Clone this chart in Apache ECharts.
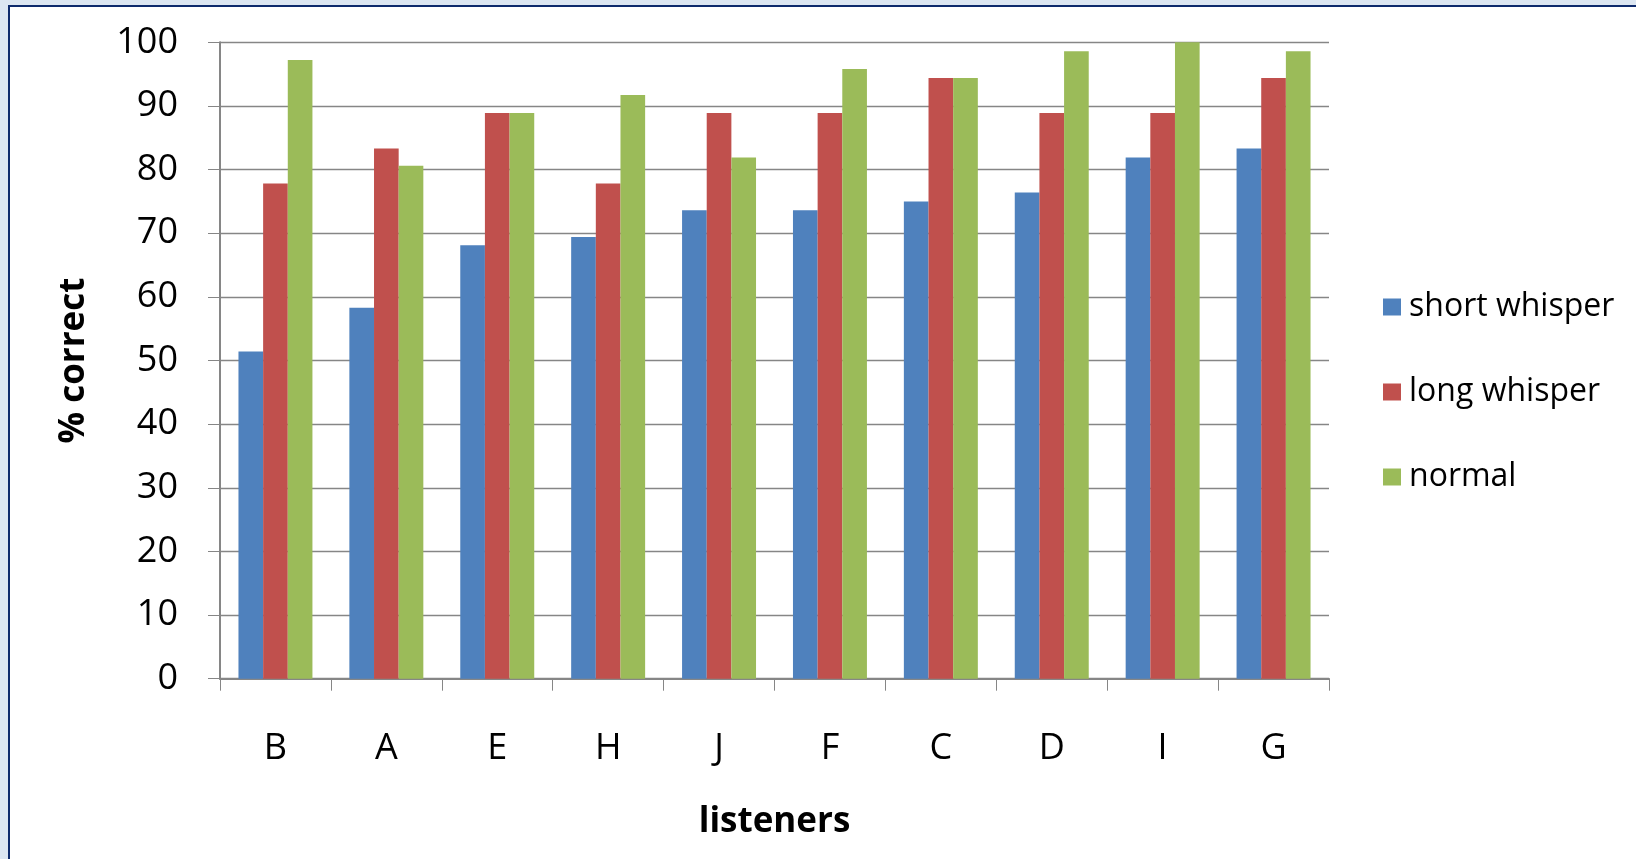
<!DOCTYPE html>
<html>
<head>
<meta charset="utf-8">
<script src="https://cdn.jsdelivr.net/npm/echarts@6/dist/echarts.min.js"></script>
<style>
  html, body { margin: 0; padding: 0; width: 1636px; height: 859px; overflow: hidden; background: #dce6f2; }
  #frame { position: absolute; left: 8px; top: 5px; width: 1700px; height: 1000px; background: #ffffff; border-left: 2.5px solid #0e2a6c; border-top: 2.5px solid #0e2a6c; }
  #chart { position: absolute; left: 0; top: 0; width: 1636px; height: 859px; }
</style>
</head>
<body>
<div id="frame"></div>
<div id="chart"></div>
<script>
const categories = ['B', 'A', 'E', 'H', 'J', 'F', 'C', 'D', 'I', 'G'];
const shortWhisper = [51.4, 58.3, 68.1, 69.4, 73.6, 73.6, 75.0, 76.4, 81.9, 83.3];
const longWhisper = [77.8, 83.3, 88.9, 77.8, 88.9, 88.9, 94.4, 88.9, 88.9, 94.4];
const normal = [97.2, 80.6, 88.9, 91.7, 81.9, 95.8, 94.4, 98.6, 100, 98.6];
const seriesNames = ['short whisper', 'long whisper', 'normal'];
const yTicks = { min: 0, max: 100, interval: 10 };

const FONT = 'Open Sans';
const GRAY = '#868686';

const chart = echarts.init(document.getElementById('chart'), null, { renderer: 'canvas' });
chart.setOption({
  backgroundColor: 'transparent',
  animation: false,
  color: ['#4f81bd', '#c0504d', '#9bbb59'],
  grid: { left: 220, top: 42.3, right: 307, bottom: 180.3, containLabel: false, outerBoundsMode: 'none' },
  legend: {
    orient: 'vertical',
    left: 1378,
    top: 286,
    itemWidth: 18,
    itemHeight: 17,
    itemGap: 53,
    icon: 'rect',
    textStyle: { fontFamily: FONT, fontSize: 32, color: '#000', lineHeight: 32, padding: [0, 0, 0, 3] },
    data: seriesNames
  },
  xAxis: {
    type: 'category',
    data: categories,
    boundaryGap: true,
    name: 'listeners',
    nameLocation: 'middle',
    nameGap: 126,
    nameTextStyle: { fontFamily: FONT, fontSize: 35, fontWeight: 'bold', color: '#000' },
    axisLine: { show: true, lineStyle: { color: GRAY, width: 2 } },
    axisTick: { show: true, inside: false, length: 12, alignWithLabel: false, lineStyle: { color: GRAY, width: 1 } },
    axisLabel: { fontFamily: FONT, fontSize: 36, color: '#000', margin: 52 },
    splitLine: { show: false }
  },
  yAxis: {
    type: 'value',
    min: yTicks.min,
    max: yTicks.max,
    interval: yTicks.interval,
    name: '% correct',
    nameLocation: 'middle',
    nameGap: 128,
    nameRotate: 90,
    nameTextStyle: { fontFamily: FONT, fontSize: 35, fontWeight: 'bold', color: '#000' },
    axisLine: { show: true, lineStyle: { color: GRAY, width: 2 } },
    axisTick: { show: true, inside: false, length: 12, lineStyle: { color: GRAY, width: 1 } },
    axisLabel: { fontFamily: FONT, fontSize: 36, color: '#000', margin: 42 },
    splitLine: { show: true, lineStyle: { color: GRAY, width: 1.3 } }
  },
  series: [
    { name: seriesNames[0], type: 'bar', data: shortWhisper, barGap: '0%', barCategoryGap: '33.3%' },
    { name: seriesNames[1], type: 'bar', data: longWhisper, barGap: '0%', barCategoryGap: '33.3%' },
    { name: seriesNames[2], type: 'bar', data: normal, barGap: '0%', barCategoryGap: '33.3%' }
  ]
});
</script>
</body>
</html>
